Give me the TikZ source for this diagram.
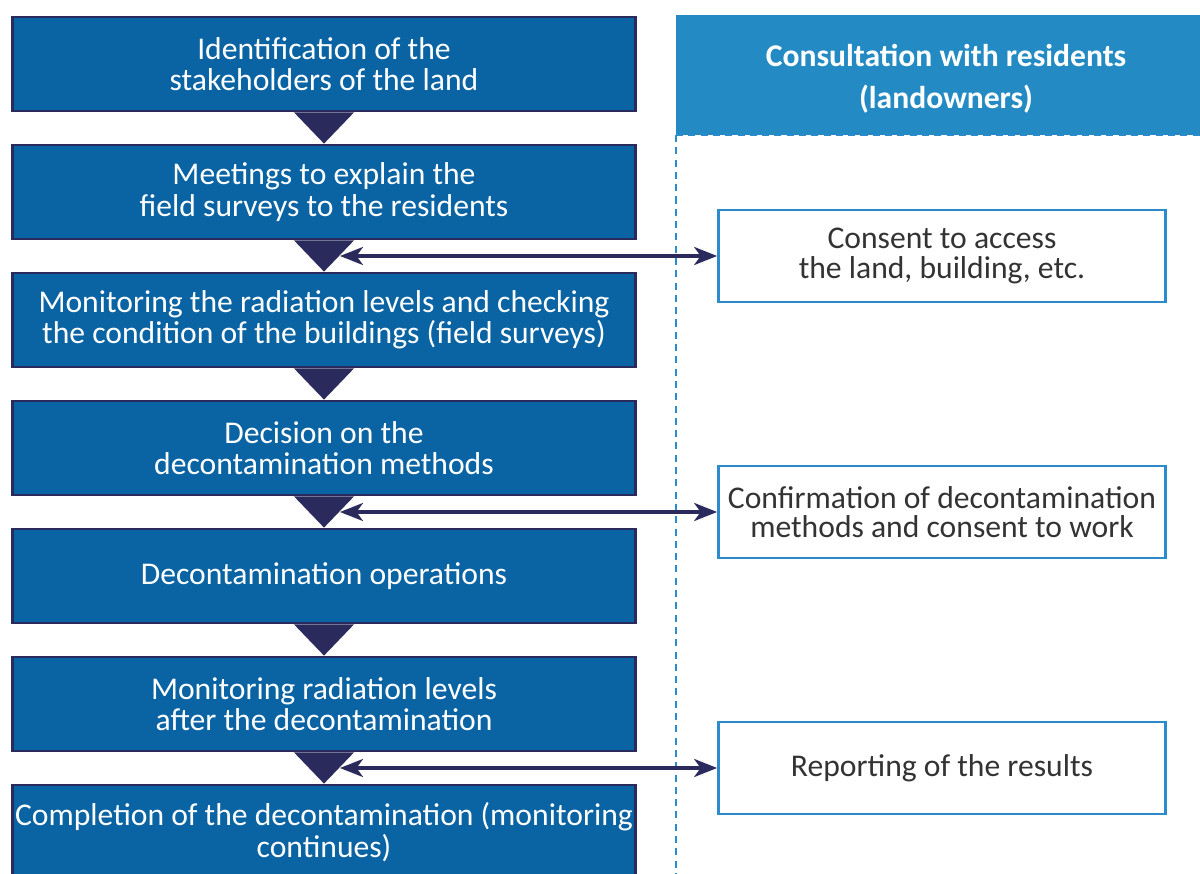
\documentclass[tikz,border=0pt]{standalone}
\usepackage{fontspec}
\setmainfont{Carlito}
\usetikzlibrary{arrows.meta}
\lineskiplimit=-20pt
\definecolor{stepblue}{HTML}{0A63A3}
\definecolor{stepnavy}{HTML}{2B2A5C}
\definecolor{headblue}{HTML}{238AC3}
\definecolor{lineblue}{HTML}{2C8CCB}
\definecolor{textgrey}{HTML}{333333}
\tikzset{
  stepbox/.style={draw=stepnavy, line width=1.6pt, fill=stepblue, text=white,
    minimum width=12.46cm, minimum height=1.88cm, inner sep=0pt, align=center,
    font=\fontsize{18}{17.8}\selectfont},
  replybox/.style={draw=lineblue, line width=1.6pt, fill=white, text=textgrey,
    minimum width=8.94cm, minimum height=1.84cm, inner sep=0pt, align=center,
    font=\fontsize{18}{16.6}\selectfont},
  link/.style={stepnavy, line width=1.8pt, <->,
    >={Stealth[length=0.46cm,width=0.36cm,inset=0.13cm]}},
  guide/.style={lineblue, line width=1.1pt, dash pattern=on 4pt off 3pt},
}
\begin{document}
\begin{tikzpicture}[x=0.02cm,y=-0.02cm]
  \useasboundingbox[fill=white] (0,0) rectangle (1200,874);
  % residents' column
  \fill[headblue] (676,15) rectangle (1200,135);
  \node[text=white, align=center, font=\fontsize{18}{24}\selectfont\bfseries] (head) at (946,79)
    {Consultation with residents\\(landowners)};
  \draw[guide] (676,135) -- (1200,135);
  \draw[guide] (676,135) -- (676,874);
  % work steps
  \foreach \i/\lab in {1/{Identification of the\\stakeholders of the land},
      2/{Meetings to explain the\\field surveys to the residents},
      3/{Monitoring the radiation levels and checking\\the condition of the buildings (field surveys)},
      4/{Decision on the\\decontamination methods},
      5/{Decontamination operations},
      6/{Monitoring radiation levels\\after the decontamination},
      7/{Completion of the decontamination (monitoring\\continues)}}
    \node[stepbox] (s\i) at (324,{64+128*(\i-1)}) {\lab};
  \foreach \i/\j in {1/2,2/3,3/4,4/5,5/6,6/7}
    \fill[stepnavy] ([xshift=-0.6cm]s\i.south) -- ([xshift=0.6cm]s\i.south) -- (s\j.north) -- cycle;
  % replies
  \foreach \k/\y/\lab in {1/256/{Consent to access\\the land, building, etc.},
      2/512/{Confirmation of decontamination\\methods and consent to work},
      3/768/{Reporting of the results}}
  {
    \node[replybox] (c\k) at (942,\y) {\lab};
    \coordinate (t\k) at (340,\y);
    \draw[link] (t\k) -- (c\k.west);
  }
\end{tikzpicture}
\end{document}
